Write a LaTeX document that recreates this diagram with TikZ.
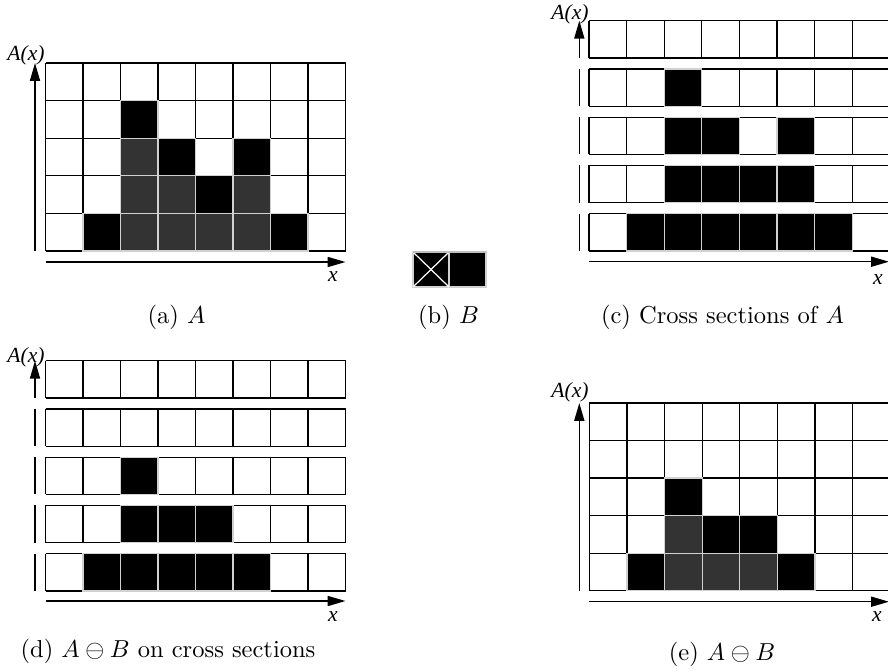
\documentclass[tikz,border=0pt]{standalone}
\usepackage{fontspec}
\newfontfamily\axfont{Liberation Serif}
\usetikzlibrary{arrows.meta}
\begin{document}
\begin{tikzpicture}[x=0.408pt,y=-0.408pt,
  gridline/.style={line width=0.5pt, draw=black},
  darkcell/.style={fill=black!80, draw=black!18, line width=0.5pt},
  blackcell/.style={fill=black, draw=black!18, line width=0.5pt},
  axarrow/.style={line width=0.6pt, -{Triangle[length=7.3pt,width=4.1pt]}},
  axplain/.style={line width=0.6pt},
  axlabel/.style={font=\axfont\itshape\fontsize{8.8}{10}\selectfont, inner sep=0pt},
  captext/.style={inner sep=0pt}]
\useasboundingbox (0,0) rectangle (888,670);
\clip (0,0) rectangle (888,670);

% ---------- (a) A ----------
\foreach \i in {0,...,8} \draw[gridline] ({45.5+\i*37.5},63) -- ({45.5+\i*37.5},251);
\foreach \j in {0,...,5} \draw[gridline] (45.5,{63+\j*37.6}) -- (345.5,{63+\j*37.6});
\foreach \c/\r in {2/2,2/3,3/3,5/3,2/4,3/4,4/4,5/4}
  \draw[darkcell] ({45.5+\c*37.5},{63+\r*37.6}) rectangle ++(37.5,37.6);
\foreach \c/\r in {2/1,3/2,5/2,4/3,1/4,6/4}
  \draw[blackcell] ({45.5+\c*37.5},{63+\r*37.6}) rectangle ++(37.5,37.6);
\coordinate (av0) at (35,251); \coordinate (av1) at (35,63);
\coordinate (ah0) at (45.5,262); \coordinate (ah1) at (345.5,262);
\draw[axarrow] (av0) -- (av1);
\draw[axarrow] (ah0) -- (ah1);
\node[axlabel] (aA) at (26,55) {A(x)};
\node[axlabel] (ax) at (333,277) {x};
\node[captext] (capa) at (176.5,317.5) {(a) $A$};

% ---------- (b) B ----------
\draw[blackcell] (413,252) rectangle (449,287);
\draw[blackcell] (449,252) rectangle (486,287);
\draw[white, line width=0.5pt] (413,252) -- (449,287);
\draw[white, line width=0.5pt] (413,287) -- (449,252);
\draw[black!25, line width=0.5pt] (413,252) -- (486,252);
\node[captext] (capb) at (448.5,317.5) {(b) $B$};

% ---------- (c) Cross sections of A ----------
\foreach \j in {0,...,4} {
  \foreach \i in {0,...,8} \draw[gridline] ({589+\i*37.6},{20.7+\j*48.25}) -- ++(0,37.3);
  \draw[gridline] (589,{20.7+\j*48.25}) -- ++(310,0);
  \draw[gridline] (589,{58+\j*48.25}) -- ++(310,0);
}
\foreach \c/\j in {2/1, 2/2,3/2,5/2, 2/3,3/3,4/3,5/3, 1/4,2/4,3/4,4/4,5/4,6/4}
  \draw[blackcell] ({589+\c*37.6},{20.7+\j*48.25}) rectangle ++(37.6,37.3);
\coordinate (cv0) at (579.3,58); \coordinate (cv1) at (579.3,20.7);
\draw[axarrow] (cv0) -- (cv1);
\foreach \j in {1,...,4} \draw[axplain] (579.3,{20.7+\j*48.25}) -- ++(0,37.3);
\coordinate (ch0) at (589,261.7); \coordinate (ch1) at (889,261.7);
\draw[axarrow] (ch0) -- (ch1);
\node[axlabel] (cA) at (570,14) {A(x)};
\node[axlabel] (cx) at (878,280) {x};
\node[captext] (capc) at (722.5,317.5) {(c) Cross sections of $A$};

% ---------- (d) erosion on cross sections ----------
\foreach \j in {0,...,4} {
  \foreach \i in {0,...,8} \draw[gridline] ({45.5+\i*37.5},{360.7+\j*48.25}) -- ++(0,37.2);
  \draw[gridline] (45.5,{360.7+\j*48.25}) -- ++(300,0);
  \draw[gridline] (45.5,{397.9+\j*48.25}) -- ++(300,0);
}
\foreach \c/\j in {2/2, 2/3,3/3,4/3, 1/4,2/4,3/4,4/4,5/4}
  \draw[blackcell] ({45.5+\c*37.5},{360.7+\j*48.25}) rectangle ++(37.5,37.2);
\coordinate (dv0) at (35,397.9); \coordinate (dv1) at (35,360.7);
\draw[axarrow] (dv0) -- (dv1);
\foreach \j in {1,...,4} \draw[axplain] (35,{360.7+\j*48.25}) -- ++(0,37.2);
\coordinate (dh0) at (45.5,601); \coordinate (dh1) at (345.5,601);
\draw[axarrow] (dh0) -- (dh1);
\node[axlabel] (dA) at (26,357) {A(x)};
\node[axlabel] (dx) at (333,617) {x};
\node[captext] (capd) at (168,651.5) {(d) $A\ominus B$ on cross sections};

% ---------- (e) A erosion B ----------
\foreach \i in {0,...,8} \draw[gridline] ({589.3+\i*37.6},403) -- ({589.3+\i*37.6},590.7);
\foreach \j in {0,...,5} \draw[gridline] (589.3,{403+\j*37.54}) -- (890,{403+\j*37.54});
\foreach \c/\r in {2/3,2/4,3/4,4/4}
  \draw[darkcell] ({589.3+\c*37.6},{403+\r*37.54}) rectangle ++(37.6,37.54);
\foreach \c/\r in {2/2,3/3,4/3,1/4,5/4}
  \draw[blackcell] ({589.3+\c*37.6},{403+\r*37.54}) rectangle ++(37.6,37.54);
\coordinate (ev0) at (579.3,590.7); \coordinate (ev1) at (579.3,403);
\coordinate (eh0) at (589.3,601.7); \coordinate (eh1) at (889,601.7);
\draw[axarrow] (ev0) -- (ev1);
\draw[axarrow] (eh0) -- (eh1);
\node[axlabel] (eA) at (570,392) {A(x)};
\node[axlabel] (ex) at (877,617) {x};
\node[captext] (cape) at (722,654) {(e) $A\ominus B$};
\end{tikzpicture}
\end{document}
